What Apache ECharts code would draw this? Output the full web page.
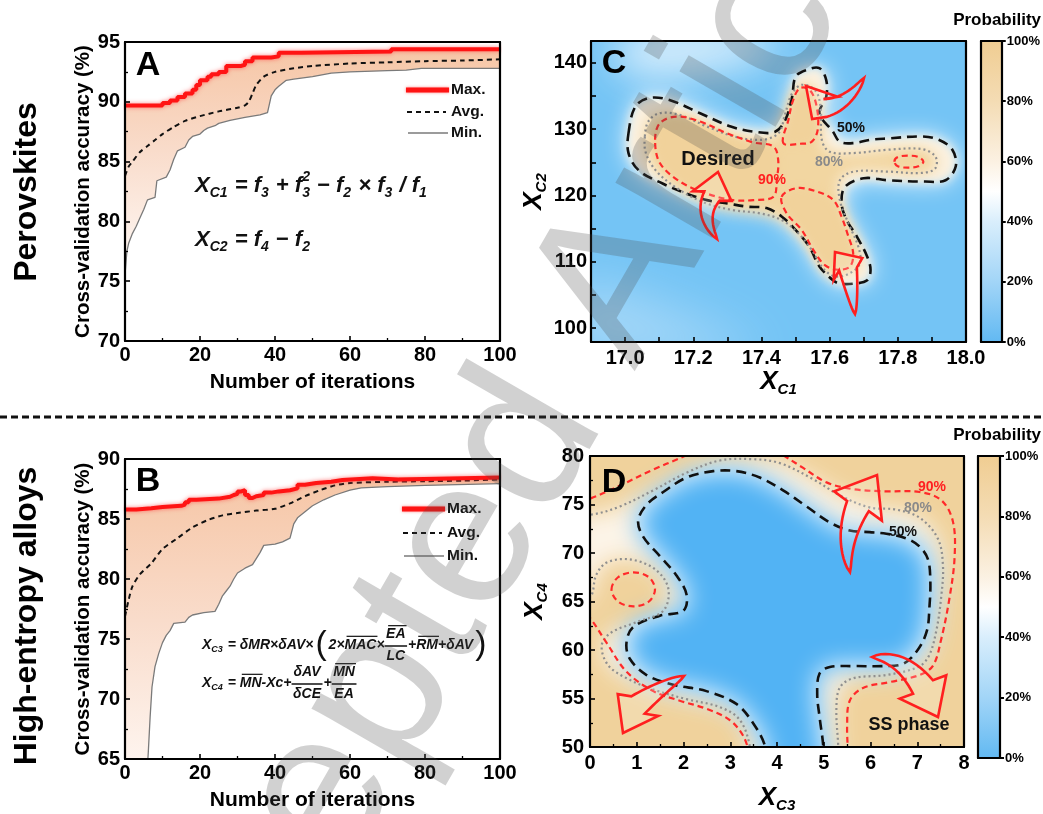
<!DOCTYPE html>
<html><head><meta charset="utf-8">
<script src="https://cdn.jsdelivr.net/npm/echarts@6/dist/echarts.min.js"></script>
<style>html,body{margin:0;padding:0;background:#fff}#c{width:1043px;height:814px}</style>
</head><body><div id="c"></div>
<script>
const FONT = "'Liberation Sans', Arial, Helvetica, sans-serif";

// ===== Panel A (Perovskites): cross-validation accuracy vs iteration =====
const aMax = [[0,89.7],[8,89.7],[10,89.9],[12,90.1],[14,90.4],[16,90.7],[18,91.0],[19,91.4],[20,91.8],[22,92.1],[23,92.3],[25,92.5],[27,93.0],[31,93.1],[32,93.4],[34,93.7],[39,93.8],[41,94.1],[47,94.2],[71,94.4],[100,94.4]];
const aAvg = [[0,83.8],[1,84.6],[2,85.0],[4,85.8],[6,86.3],[8,86.8],[10,87.3],[13,87.9],[16,88.4],[20,88.8],[25,89.2],[30,89.5],[32,89.7],[33,90.0],[34,90.7],[35,91.4],[37,92.1],[40,92.5],[45,92.8],[50,93.0],[60,93.2],[70,93.3],[80,93.4],[90,93.45],[100,93.55]];
const aMin = [[0,75.5],[0.5,77.5],[1,78.2],[2,79.0],[3,79.6],[4,80.3],[5,81.0],[6,81.8],[8,82.0],[8.5,83.4],[11,83.7],[12,84.3],[13,85.2],[14,85.9],[16,86.2],[17,86.8],[18,87.1],[20,87.3],[21,87.6],[22,87.8],[24,88.0],[25,88.2],[28,88.45],[32,88.7],[36,88.9],[38,89.1],[39,90.5],[40,91.0],[41,91.3],[43,91.8],[45,91.9],[50,92.1],[55,92.4],[60,92.5],[70,92.6],[75,92.65],[79,92.8],[100,92.8]];

// ===== Panel B (High-entropy alloys) =====
const bMax = [[0,85.8],[3,85.9],[7,86.0],[10,86.1],[15,86.2],[16,86.4],[17,86.6],[19,86.7],[25,86.85],[28,87.0],[29,87.1],[30,87.3],[31,87.4],[32,87.0],[33,86.75],[34,86.9],[35,87.0],[37,87.2],[39,87.3],[41,87.4],[44,87.55],[46,87.85],[48,88.0],[51,88.1],[55,88.25],[58,88.4],[66,88.3],[73,88.45],[100,88.45]];
const bAvg = [[0,76.9],[1,78.3],[2,79.4],[4,80.4],[7,81.3],[10,82.5],[14,83.4],[18,84.3],[22,84.9],[26,85.3],[30,85.5],[35,85.7],[40,85.85],[44,86.3],[48,86.9],[52,87.4],[56,87.8],[60,88.0],[70,88.1],[80,88.15],[90,88.2],[100,88.3]];
const bMin = [[5.5,62],[6.2,65.5],[6.7,68.5],[7.2,71.0],[8,72.7],[9,73.8],[10,74.7],[11,75.3],[12,75.7],[13,76.3],[16,76.4],[17,76.8],[18,77.0],[21,77.2],[24,77.3],[25,77.9],[26,78.6],[27,79.0],[28,79.4],[29,80.0],[30,80.5],[32,80.9],[34,81.2],[35,81.7],[36,82.2],[37,82.8],[40,82.9],[42,83.1],[44,83.4],[45,84.6],[46,85.1],[48,85.6],[50,86.1],[53,86.6],[56,87.0],[60,87.4],[63,87.6],[70,87.7],[80,87.8],[100,87.95]];

// ===== Panel C contours (x = X_C1, y = X_C2) =====
const c50 = [[17.01,129.4],[17.03,133.4],[17.07,134.7],[17.13,134.4],[17.22,132.4],[17.31,130.4],[17.38,129.6],[17.44,129.6],[17.47,131.4],[17.49,134.9],[17.50,137.9],[17.53,138.9],[17.57,139.2],[17.59,137.4],[17.59,134.9],[17.57,132.4],[17.61,129.6],[17.63,128.1],[17.67,127.9],[17.72,128.4],[17.77,128.6],[17.87,128.9],[17.92,128.4],[17.96,126.9],[17.97,124.4],[17.94,122.3],[17.88,122.1],[17.77,122.3],[17.70,122.6],[17.645,121.3],[17.635,118.8],[17.65,116.3],[17.68,113.8],[17.71,110.8],[17.72,108.8],[17.71,107.2],[17.67,106.7],[17.63,106.7],[17.61,107.2],[17.57,109.3],[17.54,112.3],[17.50,114.8],[17.46,116.8],[17.415,118.1],[17.36,118.3],[17.30,118.8],[17.24,119.3],[17.18,120.3],[17.11,121.8],[17.04,123.8],[17.01,126.4]];
const c80 = [[17.058,128.9],[17.068,131.15],[17.10,132.4],[17.16,132.15],[17.24,130.4],[17.32,128.9],[17.40,128.4],[17.45,129.4],[17.47,132.4],[17.49,135.4],[17.52,136.7],[17.56,135.7],[17.574,132.9],[17.577,128.4],[17.60,126.6],[17.67,126.4],[17.77,126.9],[17.87,127.0],[17.91,125.9],[17.91,124.1],[17.87,123.4],[17.77,123.6],[17.67,123.6],[17.63,122.3],[17.63,119.3],[17.655,115.8],[17.684,112.3],[17.689,109.8],[17.66,108.3],[17.616,107.8],[17.581,109.0],[17.547,111.8],[17.508,114.3],[17.459,116.3],[17.396,117.3],[17.317,117.8],[17.239,118.8],[17.161,120.8],[17.093,123.6],[17.061,126.4]];
const c90Left = [[17.088,128.4],[17.102,130.9],[17.151,131.9],[17.22,131.15],[17.298,129.4],[17.376,128.0],[17.435,127.4],[17.449,125.4],[17.445,122.3],[17.435,119.8],[17.376,119.3],[17.317,119.3],[17.239,120.3],[17.161,122.1],[17.102,124.9]];
const c90Top = [[17.464,127.9],[17.479,131.4],[17.493,134.4],[17.513,136.2],[17.542,135.9],[17.562,133.4],[17.565,129.9],[17.547,128.1],[17.513,127.8]];
const c90Bottom = [[17.459,119.8],[17.503,121.1],[17.562,120.6],[17.611,119.3],[17.635,116.8],[17.655,113.8],[17.669,111.3],[17.66,109.3],[17.625,108.8],[17.586,109.5],[17.552,111.8],[17.518,114.8],[17.474,117.3]];
const c90Right = [[17.79,125.1],[17.80,125.8],[17.83,126.0],[17.86,125.8],[17.875,125.1],[17.86,124.4],[17.83,124.2],[17.80,124.4]];
// lighter (~35-45 %) zones of the C background
const c40Top = [[16.98,139.5],[17.1,138.0],[17.25,139.0],[17.38,140.5],[17.45,144.5],[17.0,144.5]];
const c25Low = [[16.85,96.5],[16.85,107],[17.0,105.5],[17.2,101.5],[17.4,96.5]];

// ===== Panel D contours (x = X_C3, y = X_C4) =====
const d50 = [[3.80,47],[3.75,50],[3.49,52.45],[3.13,54.44],[2.49,55.76],[1.78,56.42],[1.21,57.42],[0.855,59.07],[0.78,60.73],[0.926,62.38],[1.496,63.54],[1.994,64.04],[2.066,65.7],[1.85,67.68],[1.496,69.67],[1.14,71.66],[1.03,73.31],[1.21,74.97],[1.567,76.29],[2.066,77.78],[2.635,78.44],[3.13,78.44],[3.63,77.78],[4.13,76.46],[4.63,74.8],[5.13,73.15],[5.556,72.32],[5.98,72.15],[6.34,71.99],[6.77,71.49],[7.05,70.66],[7.23,69.34],[7.28,67.02],[7.26,64.37],[7.21,62.05],[7.02,60.07],[6.70,58.58],[6.27,58.34],[5.63,58.34],[5.13,58.25],[4.91,57.58],[4.86,55.43],[4.91,53.11],[4.99,50],[4.99,47]];
const d80 = [[3.42,47],[3.42,50],[3.205,52.78],[2.78,54.11],[2.066,54.93],[1.353,55.93],[0.783,57.09],[0.392,58.41],[0.249,60.4],[0.427,61.72],[0.997,62.88],[1.567,64.04],[1.674,66.36],[1.389,68.34],[0.855,69.34],[0.356,69.01],[0.128,67.68],[0.014,65.53],[-0.3,65.2],[-0.3,74.2],[0.036,73.97],[0.641,74.8],[1.353,76.46],[2.066,78.28],[2.78,79.54],[3.49,79.67],[4.06,79.27],[4.77,77.62],[5.34,75.96],[5.98,74.7],[6.55,74.47],[7.05,73.64],[7.44,71.49],[7.55,68.68],[7.51,65.36],[7.41,62.05],[7.25,59.4],[7.02,58.25],[6.34,57.42],[5.63,57.09],[5.34,56.09],[5.27,53.77],[5.31,50],[5.31,47]];
const d90TopLeft = [[-0.2,75.4],[0.014,75.63],[0.641,76.95],[1.353,78.61],[1.92,79.77],[2.3,80.6]];
const d90Right = [[3.95,80.6],[4.06,80.3],[4.56,78.77],[5.06,77.28],[5.6,76.6],[6.27,76.36],[7.05,76.29],[7.51,75.46],[7.76,73.31],[7.8,69.67],[7.69,65.36],[7.51,61.06],[7.34,58.41],[7.05,57.42],[6.41,56.69],[5.84,56.09],[5.556,54.77],[5.5,52.12],[5.52,49.5]];
const d90BottomLeft = [[-0.1,63.5],[0.014,63.21],[0.356,60.73],[0.783,57.75],[1.353,55.76],[1.92,54.77],[2.49,53.94],[2.99,52.78],[3.28,51.13],[3.4,49.5]];
const d90Island = [[0.46,66.25],[0.6,67.5],[0.93,68.0],[1.26,67.5],[1.39,66.25],[1.26,65.0],[0.93,64.5],[0.6,65.0]];

// ===== tick values =====
const iterTicks = [0,20,40,60,80,100];
const accTicksA = [70,75,80,85,90,95];
const accTicksB = [65,70,75,80,85,90];
const xc1Labels = [17.0,17.2,17.4,17.6,17.8,18.0];
const xc1Ticks = [17.0,17.1,17.2,17.3,17.4,17.5,17.6,17.7,17.8,17.9,18.0];
const xc2Labels = [100,110,120,130,140];
const xc2Ticks = [100,105,110,115,120,125,130,135,140];
const probTicks = [0,20,40,60,80,100];

const chart = echarts.init(document.getElementById('c'), null, {renderer:'canvas'});

const grids = [
  {left:125, top:42, width:375, height:299},   // A
  {left:125, top:459, width:375, height:300},  // B
  {left:591, top:41, width:375, height:301},   // C
  {left:590, top:456, width:374, height:302},  // D
  {left:981, top:41, width:21, height:301},    // C colorbar
  {left:978, top:456, width:22, height:302}    // D colorbar
];

const blackLine = {show:true, onZero:false, lineStyle:{color:'#000', width:2.2}};
const lblStyle = {color:'#000', fontFamily:FONT, fontWeight:'bold', fontSize:20};
const subName = {
  m:{fontFamily:FONT, fontWeight:'bold', fontStyle:'italic', fontSize:26, color:'#000', lineHeight:30, verticalAlign:'middle'},
  s:{fontFamily:FONT, fontWeight:'bold', fontStyle:'italic', fontSize:15, color:'#000', lineHeight:15, verticalAlign:'bottom'}
};
const accName = {fontFamily:FONT, fontWeight:'bold', fontSize:20.5, color:'#000'};
const iterName = {fontFamily:FONT, fontWeight:'bold', fontSize:21, color:'#000'};
const minor = {show:true, splitNumber:2, length:3, lineStyle:{color:'#000', width:1.3}};
const xAxes = [], yAxes = [];
function frameAxes(g, xr, yr, ySide) {
  xAxes.push({type:'value', gridIndex:g, min:xr[0], max:xr[1], position:'top', z:10, axisLine:blackLine, axisTick:{show:false}, axisLabel:{show:false}, splitLine:{show:false}});
  yAxes.push({type:'value', gridIndex:g, min:yr[0], max:yr[1], position:ySide||'right', z:10, axisLine:blackLine, axisTick:{show:false}, axisLabel:{show:false}, splitLine:{show:false}});
}
function tickCfg(extra){ return Object.assign({show:true, inside:true, length:5, lineStyle:{color:'#000', width:1.6}}, extra||{}); }

xAxes.push({type:'value', gridIndex:0, min:iterTicks[0], max:iterTicks[iterTicks.length-1], interval:20, position:'bottom', z:10,
  name:'Number of iterations', nameLocation:'middle', nameGap:31, nameTextStyle:iterName,
  axisLine:blackLine, axisTick:tickCfg(), minorTick:minor, axisLabel:Object.assign({margin:4}, lblStyle), splitLine:{show:false}});
yAxes.push({type:'value', gridIndex:0, min:accTicksA[0], max:accTicksA[accTicksA.length-1], interval:5, position:'left', z:10,
  name:'Cross-validation accuracy (%)', nameLocation:'middle', nameGap:31, nameTextStyle:accName,
  axisLine:blackLine, axisTick:tickCfg(), minorTick:minor, axisLabel:Object.assign({margin:5}, lblStyle), splitLine:{show:false}});
xAxes.push({type:'value', gridIndex:1, min:iterTicks[0], max:iterTicks[iterTicks.length-1], interval:20, position:'bottom', z:10,
  name:'Number of iterations', nameLocation:'middle', nameGap:31, nameTextStyle:iterName,
  axisLine:blackLine, axisTick:tickCfg(), minorTick:minor, axisLabel:Object.assign({margin:4}, lblStyle), splitLine:{show:false}});
yAxes.push({type:'value', gridIndex:1, min:accTicksB[0], max:accTicksB[accTicksB.length-1], interval:5, position:'left', z:10,
  name:'Cross-validation accuracy (%)', nameLocation:'middle', nameGap:31, nameTextStyle:accName,
  axisLine:blackLine, axisTick:tickCfg(), minorTick:minor, axisLabel:Object.assign({margin:5}, lblStyle), splitLine:{show:false}});
xAxes.push({type:'value', gridIndex:2, min:16.9, max:18.0, position:'bottom', z:10,
  name:'{m|X}{s|C1}', nameLocation:'middle', nameGap:25, nameTextStyle:{rich:subName},
  axisLine:blackLine, axisTick:tickCfg({customValues:xc1Ticks}),
  axisLabel:Object.assign({margin:6, customValues:xc1Labels, formatter:v=>Number(v).toFixed(1)}, lblStyle), splitLine:{show:false}});
yAxes.push({type:'value', gridIndex:2, min:97.9, max:143.3, position:'left', z:10,
  name:'{m|X}{s|C2}', nameLocation:'middle', nameGap:42, nameTextStyle:{rich:subName},
  axisLine:blackLine, axisTick:tickCfg({customValues:xc2Ticks}),
  axisLabel:Object.assign({margin:4, customValues:xc2Labels}, lblStyle), splitLine:{show:false}});
xAxes.push({type:'value', gridIndex:3, min:0, max:8, interval:1, position:'bottom', z:10,
  name:'{m|X}{s|C3}', nameLocation:'middle', nameGap:36, nameTextStyle:{rich:subName},
  axisLine:blackLine, axisTick:tickCfg(), minorTick:minor, axisLabel:Object.assign({margin:6}, lblStyle), splitLine:{show:false}});
yAxes.push({type:'value', gridIndex:3, min:50, max:80, interval:5, position:'left', z:10,
  name:'{m|X}{s|C4}', nameLocation:'middle', nameGap:40, nameTextStyle:{rich:subName},
  axisLine:blackLine, axisTick:tickCfg(), minorTick:minor, axisLabel:Object.assign({margin:6}, lblStyle), splitLine:{show:false}});
for (const g of [4,5]) {
  xAxes.push({type:'value', gridIndex:g, min:0, max:1, position:'bottom', z:10, axisLine:blackLine, axisTick:{show:false}, axisLabel:{show:false}, splitLine:{show:false}});
  yAxes.push({type:'value', gridIndex:g, min:probTicks[0], max:probTicks[probTicks.length-1], interval:20, position:'right', z:10,
    axisLine:blackLine, axisTick:{show:true, inside:false, length:4, lineStyle:{color:'#000', width:2}},
    axisLabel:{margin:5, formatter:'{value}%', color:'#000', fontFamily:FONT, fontWeight:'bold', fontSize:13}, splitLine:{show:false}});
}
frameAxes(0,[0,100],[70,95]);
frameAxes(1,[0,100],[65,90]);
frameAxes(2,[16.9,18.0],[97.9,143.3]);
frameAxes(3,[0,8],[50,80]);
frameAxes(4,[0,1],[0,100],'left');
frameAxes(5,[0,1],[0,100],'left');

const series = [];
const bandFill = {type:'linear', x:0, y:0, x2:0, y2:1, colorStops:[
  {offset:0, color:'#f6c6a6'}, {offset:0.45, color:'#f9dccb'}, {offset:1, color:'#fffaf7'}]};
function band(g, maxPts, minPts) {
  series.push({type:'custom', xAxisIndex:g, yAxisIndex:g, clip:true, silent:true, z:1,
    data:[maxPts[0]],
    renderItem:(params, api) => {
      const pts = [];
      maxPts.forEach((p,i) => { if (i>0) pts.push(api.coord([p[0], maxPts[i-1][1]])); pts.push(api.coord(p)); });
      for (let i=minPts.length-1;i>=0;i--) pts.push(api.coord(minPts[i]));
      pts.push(api.coord([maxPts[0][0], minPts[0][1]]));
      return {type:'polygon', shape:{points:pts}, style:{fill:bandFill}};
    }});
}
function lines(g, maxPts, avgPts, minPts) {
  series.push({type:'line', name:'Min.', xAxisIndex:g, yAxisIndex:g, data:minPts, symbol:'none', z:3, silent:true,
    lineStyle:{color:'#7a7a7a', width:1.3}});
  series.push({type:'line', name:'Avg.', xAxisIndex:g, yAxisIndex:g, data:avgPts, symbol:'none', smooth:0.25, z:4, silent:true,
    lineStyle:{color:'#111', width:2, type:[5,4]}});
  series.push({type:'line', name:'Max.', xAxisIndex:g, yAxisIndex:g, data:maxPts, step:'end', symbol:'none', z:5, silent:true,
    lineStyle:{color:'#ff1414', width:4, shadowBlur:4, shadowColor:'rgba(255,70,70,0.7)'}});
}
band(0, aMax, aMin); lines(0, aMax, aAvg, aMin);
band(1, bMax, bMin); lines(1, bMax, bAvg, bMin);

function blurRegion(g, polys, color, blur, z) {
  series.push({type:'custom', xAxisIndex:g, yAxisIndex:g, clip:true, silent:true, z:z,
    data:polys.map(p => p[0]),
    renderItem:(params, api) => {
      const poly = polys[params.dataIndex];
      const pts = poly.map(p => { const c = api.coord(p); return [c[0]-4000, c[1]]; });
      return {type:'polygon', shape:{points:pts, smooth:0.35},
        style:{fill:color, shadowColor:color, shadowBlur:blur, shadowOffsetX:4000, shadowOffsetY:0}};
    }});
}
function contour(g, polys, closed, color, dash, width, z) {
  series.push({type:'custom', xAxisIndex:g, yAxisIndex:g, clip:true, silent:true, z:z||6,
    data:polys.map(p => p[0]),
    renderItem:(params, api) => {
      const poly = polys[params.dataIndex];
      const pts = poly.map(p => api.coord(p));
      return {type: closed ? 'polygon' : 'polyline', shape:{points:pts, smooth:0.35},
        style:{fill:null, stroke:color, lineWidth:width, lineDash:dash, lineCap:'butt'}};
    }});
}
// Panel C
blurRegion(2, [c25Low], '#a4d7f8', 50, 1);
blurRegion(2, [c40Top], '#dff1fd', 40, 1);
blurRegion(2, [c50], '#ffffff', 24, 1);
blurRegion(2, [c50], '#fbf1e0', 10, 1);
blurRegion(2, [c80, c90Right], '#f2d6a1', 14, 2);
blurRegion(2, [c90Left, c90Top, c90Bottom], '#f1d29b', 10, 2);
contour(2, [c50], true, '#111', [10,6], 2.6);
contour(2, [c80], true, '#8f8f8f', [2,3], 2.2);
contour(2, [c90Left, c90Top, c90Bottom, c90Right], true, '#ff2a2a', [6,4], 2.2);
// Panel D
blurRegion(3, [d80], '#fcf4e8', 22, 1);
blurRegion(3, [d50], '#ffffff', 10, 1);
blurRegion(3, [d50], '#52b3f4', 26, 2);
contour(3, [d50], false, '#111', [10,6], 2.6);
contour(3, [d80], false, '#8f8f8f', [2,3], 2.2);
contour(3, [d90TopLeft, d90Right, d90BottomLeft], false, '#ff2a2a', [6,4], 2.2);
contour(3, [d90Island], true, '#ff2a2a', [6,4], 2.2);

const barFill = {type:'linear', x:0, y:0, x2:0, y2:1, colorStops:[
  {offset:0, color:'#f0cd92'}, {offset:0.2, color:'#f4dcb4'}, {offset:0.4, color:'#fbf1e2'}, {offset:0.5, color:'#ffffff'},
  {offset:0.6, color:'#d9eefc'}, {offset:0.8, color:'#a2d5f7'}, {offset:1, color:'#62b9f2'}]};
for (const g of [4,5]) {
  series.push({type:'custom', xAxisIndex:g, yAxisIndex:g, clip:true, silent:true, z:1,
    data:[[0, probTicks[0]]],
    renderItem:(params, api) => {
      const a = api.coord([0, probTicks[probTicks.length-1]]), b = api.coord([1, probTicks[0]]);
      return {type:'rect', shape:{x:a[0], y:a[1], width:b[0]-a[0], height:b[1]-a[1]}, style:{fill:barFill}};
    }});
}

// ===== annotations =====
function arrowPts(tip, base, ctrl, tail, headHW, shaftHW) {
  const dx = tip[0]-base[0], dy = tip[1]-base[1], L = Math.hypot(dx,dy);
  const nx = -dy/L, ny = dx/L;
  const sideA = [], sideB = [];
  const N = 14;
  for (let i=0;i<=N;i++) {
    const t = i/N, mt = 1-t;
    const px = mt*mt*base[0]+2*mt*t*ctrl[0]+t*t*tail[0];
    const py = mt*mt*base[1]+2*mt*t*ctrl[1]+t*t*tail[1];
    const tx = 2*mt*(ctrl[0]-base[0])+2*t*(tail[0]-ctrl[0]);
    const ty = 2*mt*(ctrl[1]-base[1])+2*t*(tail[1]-ctrl[1]);
    const tl = Math.hypot(tx,ty) || 1, qx = -ty/tl, qy = tx/tl;
    const w = shaftHW*Math.pow(1-t, 0.7);
    sideA.push([px-qx*w, py-qy*w]); sideB.push([px+qx*w, py+qy*w]);
  }
  return [tip, [base[0]+nx*headHW, base[1]+ny*headHW]].concat(sideA, sideB.reverse(), [[base[0]-nx*headHW, base[1]-ny*headHW]]);
}
const arrows = [
  arrowPts([806,86],[825,108],[848,104],[864,78],17,9),
  arrowPts([718,172],[712,196],[700,216],[717,239],20,9),
  arrowPts([835,252],[848,269],[852,292],[855,314],18,9),
  arrowPts([877,475],[858,506],[842,540],[850,572],28,12),
  arrowPts([938,717],[923,687],[902,656],[872,657],26,12),
  arrowPts([623,733],[638,705],[660,688],[684,676],23,11)
];
const graphics = [];
arrows.forEach(p => graphics.push({type:'polygon', z:50, silent:true, shape:{points:p},
  style:{fill:'rgba(255,255,255,0.18)', stroke:'#ff1f1f', lineWidth:2.6, lineJoin:'miter'}}));

function txt(x, y, text, font, color, extra) {
  graphics.push(Object.assign({type:'text', x, y, z:60, silent:true,
    style:{text, fill:color||'#000', font, align:'center', verticalAlign:'middle'}}, extra||{}));
}
const bold = s => `bold ${s}px ${FONT}`;
txt(27, 192, 'Perovskites', bold(32), '#000', {rotation:Math.PI/2});
txt(27, 616, 'High-entropy alloys', bold(32), '#000', {rotation:Math.PI/2});
txt(148, 66, 'A', bold(34)); txt(148, 482, 'B', bold(34));
txt(614, 64, 'C', bold(34)); txt(614, 483, 'D', bold(34));
graphics.push({type:'text', x:1041, y:20, z:60, style:{text:'Probability', font:bold(17), fill:'#000', align:'right', verticalAlign:'middle'}});
graphics.push({type:'text', x:1041, y:435, z:60, style:{text:'Probability', font:bold(17), fill:'#000', align:'right', verticalAlign:'middle'}});
txt(851, 128, '50%', bold(14), '#111'); txt(829, 162, '80%', bold(14), '#8a8a8a'); txt(772, 180, '90%', bold(14), '#ff2020');
txt(718, 159, 'Desired', bold(20), '#111');
txt(932, 487, '90%', bold(14), '#ff2020'); txt(918, 508, '80%', bold(14), '#8a8a8a'); txt(903, 532, '50%', bold(14), '#111');
txt(909, 725, 'SS phase', bold(18), '#111');
function legend(x, yMax, yAvg, yMin) {
  graphics.push({type:'line', z:60, shape:{x1:x, y1:yMax, x2:x+43, y2:yMax}, style:{stroke:'#ff1414', lineWidth:5, shadowBlur:3, shadowColor:'rgba(255,70,70,0.7)'}});
  graphics.push({type:'line', z:60, shape:{x1:x+1, y1:yAvg, x2:x+40, y2:yAvg}, style:{stroke:'#111', lineWidth:2, lineDash:[5,4]}});
  graphics.push({type:'line', z:60, shape:{x1:x+2, y1:yMin, x2:x+42, y2:yMin}, style:{stroke:'#7a7a7a', lineWidth:1.3}});
  [['Max.',yMax],['Avg.',yAvg],['Min.',yMin]].forEach(([t,y]) =>
    graphics.push({type:'text', x:x+45, y, z:60, style:{text:t, font:bold(15.5), fill:'#111', align:'left', verticalAlign:'middle'}}));
}
legend(406, 90, 112, 133);
legend(402, 509, 533, 556);

const mctx = document.createElement('canvas').getContext('2d');
function tw(t, font) { mctx.font = font; return mctx.measureText(t).width; }
const bi = s => `italic bold ${s}px ${FONT}`;
function put(x, y, t, font) { graphics.push({type:'text', x, y, z:60, silent:true, style:{text:t, font, fill:'#111', align:'left', verticalAlign:'middle'}}); return tw(t, font); }
function hbar(x1, x2, y, w) { graphics.push({type:'line', z:60, silent:true, shape:{x1, y1:y, x2, y2:y}, style:{stroke:'#111', lineWidth:w||1.2}}); }
function formula(x, y, parts, ms, ss, subDy, supDy) {
  const FM = bi(ms), FS = bi(ss);
  for (const p of parts) {
    if (p.m !== undefined) { x += put(x, y, p.m, FM); }
    else if (p.o !== undefined) { const w = put(x, y, p.o, FM); hbar(x+2, x+w+1, y-ms*0.62, 1.2); x += w; }
    else if (p.s !== undefined || p.p !== undefined) {
      let w = 0;
      if (p.s) w = Math.max(w, put(x, y+subDy, p.s, FS));
      if (p.p) w = Math.max(w, put(x, y+supDy, p.p, FS));
      x += w + 1;
    } else if (p.f) {
      const wn = tw(p.f[0], FM), wd = tw(p.f[1], FM), w = Math.max(wn, wd) + 3;
      put(x + (w-wn)/2, y - ms*0.78, p.f[0], FM);
      put(x + (w-wd)/2, y + ms*0.78, p.f[1], FM);
      if (p.f[2]) hbar(x + (w-wn)/2 + 2, x + (w+wn)/2 + 1, y - ms*1.38, 1.2);
      hbar(x, x + w, y + 1, 1.5);
      x += w + 1;
    } else if (p.paren) {
      const pf = `${ms*2.4}px ${FONT}`;
      x += 2; x += put(x, y, p.paren, pf) + 2;
    }
  }
  return x;
}
formula(195, 186, [{m:'X'},{s:'C1'},{m:' = f'},{s:'3'},{m:' + f'},{s:'3',p:'2'},{m:' − f'},{s:'2'},{m:' × f'},{s:'3'},{m:' / f'},{s:'1'}], 22, 14, 7, -9);
formula(195, 240, [{m:'X'},{s:'C2'},{m:' = f'},{s:'4'},{m:' − f'},{s:'2'}], 22, 14, 7, -9);
formula(202, 645, [{m:'X'},{s:'C3'},{m:' = δMR×δAV×'},{paren:'('},{m:'2×'},{o:'MAC'},{m:'×'},{f:['EA','LC',true]},{m:'+'},{o:'RM'},{m:'+δAV'},{paren:')'}], 14, 9, 4.5, -6);
formula(202, 683, [{m:'X'},{s:'C4'},{m:' = '},{o:'MN'},{m:'-Xc+'},{f:['δAV','δCE',false]},{m:'+'},{f:['MN','EA',true]}], 14, 9, 4.5, -6);

graphics.push({type:'line', z:60, shape:{x1:0, y1:417, x2:1043, y2:417}, style:{stroke:'#111', lineWidth:3, lineDash:[7,4]}});

// journal watermark "Accepted Article" (translucent, rotated)
(function(){
  const wf = `210px ${FONT}`;
  const ang = 60 * Math.PI / 180;
  const d = [Math.cos(ang), -Math.sin(ang)], u = [-Math.sin(ang), -Math.cos(ang)];
  const PA = [637, 373];                       // start of "Article" on the baseline
  const back = tw('Accepted ', wf);
  const S = [PA[0] - back*d[0], PA[1] - back*d[1]];
  const desc = 0.21 * 210;
  const P = [S[0] - desc*u[0], S[1] - desc*u[1]];
  graphics.push({type:'text', x:P[0], y:P[1], rotation:ang, z:100, silent:true,
    style:{text:'Accepted Article', font:wf, fill:'rgba(70,70,70,0.25)', align:'left', verticalAlign:'bottom'}});
})();

chart.setOption({
  animation:false,
  backgroundColor:'#fff',
  grid: grids.map((g,i) => Object.assign({containLabel:false, show: i===2 || i===3, backgroundColor: i===2 ? '#74c4f5' : (i===3 ? '#f0d29c' : 'transparent'), borderWidth:0}, g)),
  xAxis: xAxes,
  yAxis: yAxes,
  series: series,
  graphic: graphics
});
</script>
</body></html>
